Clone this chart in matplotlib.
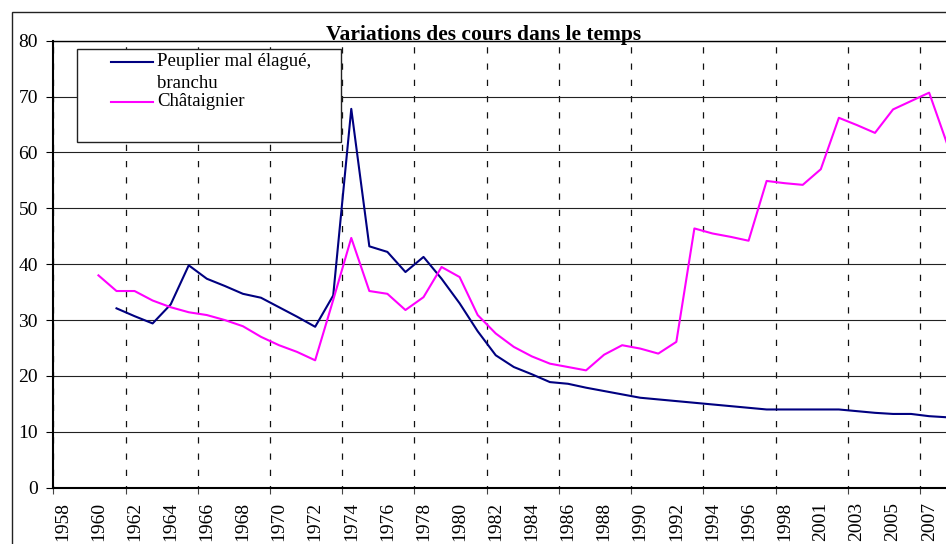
import matplotlib
matplotlib.use("Agg")
import matplotlib.pyplot as plt
from matplotlib.lines import Line2D
from matplotlib.patches import Rectangle
import numpy as np

plt.rcParams["font.family"] = ["Liberation Serif", "DejaVu Serif"]

# categories (one year is missing between 1998 and 2001 in the source table)
years = ["1958", "1959", "1960", "1961", "1962", "1963", "1964", "1965", "1966", "1967",
         "1968", "1969", "1970", "1971", "1972", "1973", "1974", "1975", "1976", "1977",
         "1978", "1979", "1980", "1981", "1982", "1983", "1984", "1985", "1986", "1987",
         "1988", "1989", "1990", "1991", "1992", "1993", "1994", "1995", "1996", "1997",
         "1998", "2000", "2001", "2002", "2003", "2004", "2005", "2006", "2007", "2008"]

peuplier = [np.nan, np.nan, np.nan, 32.1, 30.7, 29.4, 32.8, 39.8, 37.4, 36.1,
            34.7, 34.0, 32.3, 30.6, 28.8, 34.4, 67.8, 43.2, 42.2, 38.6,
            41.3, 37.4, 33.0, 28.0, 23.7, 21.6, 20.3, 18.9, 18.6, 17.9,
            17.3, 16.7, 16.1, 15.8, 15.5, 15.2, 14.9, 14.6, 14.3, 14.0,
            14.0, 14.0, 14.0, 14.0, 13.7, 13.4, 13.2, 13.2, 12.8, 12.6]

chataignier = [np.nan, np.nan, 38.0, 35.2, 35.2, 33.5, 32.3, 31.4, 30.9, 30.0,
               28.9, 27.0, 25.5, 24.3, 22.8, 33.6, 44.7, 35.2, 34.7, 31.8,
               34.1, 39.5, 37.7, 30.9, 27.6, 25.2, 23.5, 22.2, 21.6, 21.0,
               23.8, 25.5, 24.9, 24.0, 26.1, 46.4, 45.5, 44.9, 44.2, 54.9,
               54.5, 54.2, 57.0, 66.2, 64.9, 63.5, 67.7, 69.2, 70.7, 61.5]

label_peuplier = "Peuplier mal élagué,\nbranchu"
label_chataignier = "Châtaignier"
title = "Variations des cours dans le temps"

W, H = 946, 544
fig = plt.figure(figsize=(W / 100, H / 100), dpi=100)


def fx(px):
    return px / W


def fy(py):
    return 1 - py / H


# plot area runs past the right edge, like the cropped original
ax = fig.add_axes([fx(53.3), fy(487.7), fx(921), (487.7 - 40.7) / H])

x = np.arange(len(years))
ax.plot(x, peuplier, color="#000080", lw=1.5, zorder=3)
ax.plot(x, chataignier, color="#ff00ff", lw=1.5, zorder=3)

ax.set_xlim(-0.5, 50.5)
ax.set_ylim(0, 80)

ax.set_yticks(np.arange(0, 81, 10))
ax.tick_params(axis="y", length=5, width=0.8, direction="out", pad=6, labelsize=14)
ax.yaxis.grid(True, color="#222222", lw=0.8)

ax.set_xticks(x[::2])
ax.set_xticklabels(years[::2], rotation=90, fontsize=14)
ax.tick_params(axis="x", which="major", length=0, pad=10)
ax.set_xticks(np.arange(-0.5, 50, 4), minor=True)
ax.tick_params(axis="x", which="minor", length=4, width=0.8, color="#444444", direction="out")
ax.xaxis.grid(True, which="minor", color="#111111", lw=0.9, ls=(3, (5, 8)))
ax.set_axisbelow(True)

for side in ["left", "bottom"]:
    ax.spines[side].set_linewidth(1.5)
ax.spines["top"].set_linewidth(1.0)
ax.spines["right"].set_visible(False)

# outer chart frame
fig.add_artist(Rectangle((fx(11.5), -0.2), 1.2, fy(12) + 0.2, transform=fig.transFigure,
                         fill=False, ec="#222222", lw=1.0))

fig.text(fx(484), fy(40), title, ha="center", va="baseline",
         fontsize=15.5, fontweight="bold")

# legend box
fig.add_artist(Rectangle((fx(77), fy(142)), fx(341 - 77), (142 - 49) / H,
                         transform=fig.transFigure, fc="white", ec="#222222", lw=1.0, zorder=5))
fig.add_artist(Line2D([fx(111), fx(153)], [fy(62.3), fy(62.3)], transform=fig.transFigure,
                      color="#000080", lw=1.5, zorder=6))
fig.add_artist(Line2D([fx(111), fx(153)], [fy(101.7), fy(101.7)], transform=fig.transFigure,
                      color="#ff00ff", lw=1.5, zorder=6))
fig.text(fx(157), fy(62), label_peuplier.split("\n")[0], va="center", fontsize=13.5, zorder=6)
fig.text(fx(157), fy(84), label_peuplier.split("\n")[1], va="center", fontsize=13.5, zorder=6)
fig.text(fx(157), fy(102), label_chataignier, va="center", fontsize=13.5, zorder=6)

fig.savefig("out.png", dpi=100)
